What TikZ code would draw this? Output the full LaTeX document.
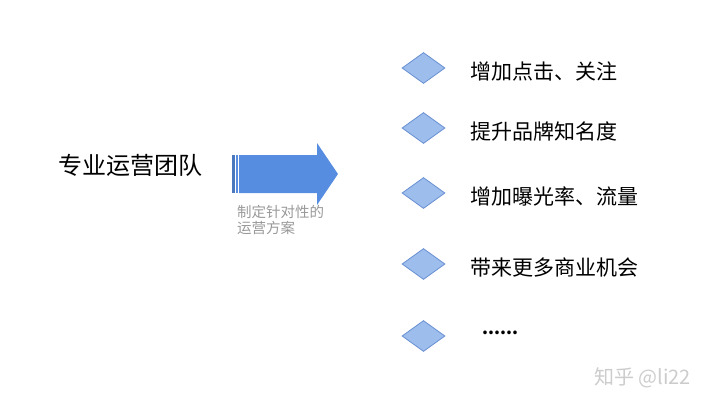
\documentclass[tikz,border=0pt]{standalone}
\usepackage{fontspec}
\setmainfont{Noto Sans CJK SC}
\usetikzlibrary{shapes.geometric}
\definecolor{arrowblue}{RGB}{86,141,225}
\definecolor{diafill}{RGB}{157,190,236}
\definecolor{diaedge}{RGB}{104,143,210}
\tikzset{
 item/.style={anchor=west,inner sep=0pt,font=\fontsize{21}{25}\selectfont},
 dia/.style={diamond,draw=diaedge,fill=diafill,line width=0.8pt,
  minimum width=43pt,minimum height=31pt,inner sep=0pt}
}

\begin{document}
\begin{tikzpicture}[x=1pt,y=-1pt]
 \useasboundingbox (0,0) rectangle (720,405);
 \node[anchor=west,inner sep=0pt,font=\fontsize{24}{28}\selectfont] (team) at (58,165) {专业运营团队};
 % arrow with striped tail
 \fill[arrowblue] (239,155)--(317,155)--(317,143)--(338,174)--(317,205)--(317,193)--(239,193)--cycle;
 \fill[arrowblue!85!black] (232,155) rectangle (234.5,193);
 \fill[arrowblue] (235.5,155) rectangle (238,193);
 \node[anchor=north west,inner sep=0pt,align=left,text=gray!80,
  font=\fontsize{14.5}{16}\selectfont] (plan) at (237,205) {制定针对性的\\运营方案};
 \foreach \y/\txt [count=\i] in {68/增加点击、关注,128/提升品牌知名度,193/增加曝光率、流量,264/带来更多商业机会}{
  \node[dia] (d\i) at (423.5,\y) {};
  \node[item] (t\i) at (470,\y+3) {\txt};
 }
 \node[dia] (d5) at (423.5,336) {};
 \node[item,font=\fontsize{17}{22}\selectfont\bfseries] (t5) at (482,333) {......};
 \node[anchor=west,inner sep=0pt,text=gray!40,font=\fontsize{20}{22}\selectfont] (mark) at (594,378) {知乎 @li22};
\end{tikzpicture}
\end{document}
